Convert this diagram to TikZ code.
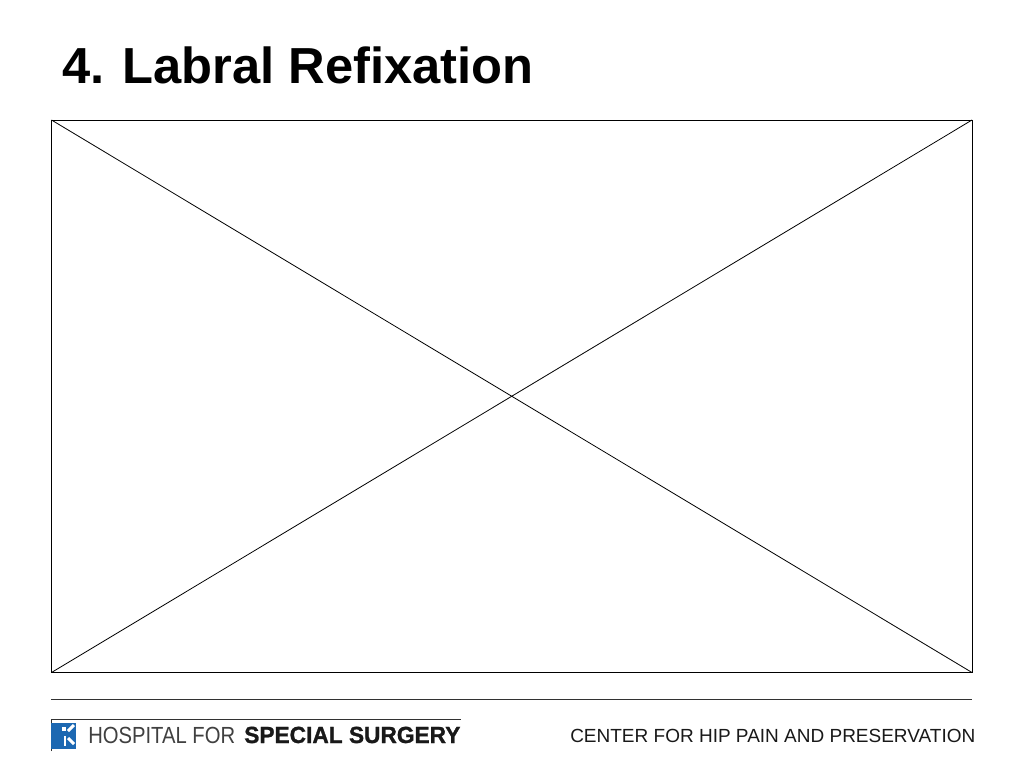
\documentclass[tikz,border=0pt]{standalone}
\usepackage{graphicx}
\usepackage{fontspec}
\setmainfont{Liberation Sans}
\newfontfamily\heavyfont[FakeBold=1.2]{Liberation Sans Bold}
\definecolor{hssblue}{RGB}{28,104,178}
\definecolor{rulegray}{RGB}{50,50,50}
\tikzset{
  x=0.75pt,y=-0.75pt,
  thinline/.style={draw=black,line width=0.6pt},
  titletext/.style={anchor=base west,inner sep=0pt,font=\fontsize{38pt}{45pt}\selectfont\bfseries},
  foottext/.style={anchor=base west,inner sep=0pt,text=black!90},
  logomark/.style={draw=white,line width=2.2pt}
}
\begin{document}
\begin{tikzpicture}
\useasboundingbox (0,0) rectangle (1024,768);
\fill[white] (0,0) rectangle (1024,768);
\node[titletext] (title) at (62,83.5) {4.\hspace{0.36em}Labral Refixation};
\coordinate (tl) at (51.5,120);
\coordinate (tr) at (972,120);
\coordinate (br) at (972,672.5);
\coordinate (bl) at (51.5,672.5);
\draw[thinline] (tl) -- (tr) -- (br) -- (bl) -- cycle;
\draw[thinline] (tl) -- (br);
\draw[thinline] (tr) -- (bl);
\coordinate (ruleL) at (51,699.5);
\coordinate (ruleR) at (972,699.5);
\draw[draw=rulegray,line width=0.8pt] (ruleL) -- (ruleR);
\coordinate (logoL) at (51,719.5);
\coordinate (logoR) at (461,719.5);
\coordinate (logoB) at (51,751);
\draw[draw=rulegray,line width=0.4pt] (logoB) -- (logoL) -- (logoR);
\fill[hssblue] (51,723) rectangle (76,748.5);
\fill[white] (62,726.5) rectangle (66,731);
\draw[logomark] (74,725) -- (68,731);
\draw[logomark] (65,736) -- (65,746);
\draw[logomark] (68,738) -- (74,744);
\node[foottext,text=black!75] (hfor) at (88,743) {\scalebox{0.867}[1]{\fontsize{17.5pt}{20pt}\selectfont HOSPITAL FOR}};
\node[foottext] (ss) at (244,743) {\scalebox{0.973}[1]{\fontsize{17.5pt}{20pt}\selectfont\heavyfont SPECIAL SURGERY}};
\node[foottext] (center) at (570,742) {\fontsize{14.25pt}{18pt}\selectfont CENTER FOR HIP PAIN AND PRESERVATION};
\end{tikzpicture}
\end{document}
